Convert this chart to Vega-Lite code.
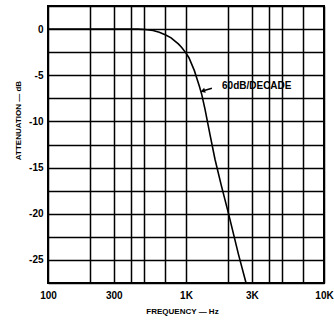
{
  "$schema": "https://vega.github.io/schema/vega-lite/v6.json",
  "width": 276,
  "height": 277,
  "autosize": {"type": "none"},
  "padding": {"left": 48, "top": 6, "right": 10, "bottom": 40},
  "background": "white",
  "config": {
    "view": {"stroke": "black", "strokeWidth": 2},
    "font": "Liberation Sans"
  },
  "datasets": {
    "curve": [
      {"f": 100, "db": 0},
      {"f": 300, "db": 0},
      {"f": 450, "db": 0},
      {"f": 505, "db": -0.05},
      {"f": 577, "db": -0.15},
      {"f": 640, "db": -0.35},
      {"f": 713, "db": -0.65},
      {"f": 780, "db": -0.95},
      {"f": 832, "db": -1.3},
      {"f": 880, "db": -1.6},
      {"f": 931, "db": -2.0},
      {"f": 1000, "db": -2.6},
      {"f": 1050, "db": -3.1},
      {"f": 1099, "db": -3.8},
      {"f": 1150, "db": -4.5},
      {"f": 1196, "db": -5.3},
      {"f": 1250, "db": -6.2},
      {"f": 1301, "db": -7.1},
      {"f": 1374, "db": -8.7},
      {"f": 1500, "db": -11.6},
      {"f": 1622, "db": -14.1},
      {"f": 1800, "db": -16.9},
      {"f": 2027, "db": -19.9},
      {"f": 2400, "db": -24.4},
      {"f": 2723, "db": -27.5}
    ],
    "arrow": [
      {"f": 1321, "db": -6.7, "f2": 1540, "db2": -6.4}
    ],
    "label": [
      {"f": 1824, "db": -6.16, "text": "60dB/DECADE"}
    ]
  },
  "layer": [
    {
      "data": {"name": "curve"},
      "mark": {"type": "line", "color": "black", "strokeWidth": 1.6, "clip": true},
      "encoding": {
        "x": {
          "field": "f", "type": "quantitative",
          "scale": {"type": "log", "domain": [100, 10000], "nice": false},
          "axis": {
            "values": [100, 200, 300, 400, 500, 700, 1000, 2000, 3000, 4000, 5000, 7000, 10000],
            "tickCount": 30,
            "labelExpr": "datum.value==100?'100':datum.value==300?'300':datum.value==1000?'1K':datum.value==3000?'3K':datum.value==10000?'10K':''",
            "grid": true, "gridColor": "black", "gridWidth": 1.5, "gridOpacity": 1,
            "ticks": false, "domain": false,
            "labelFont": "Liberation Sans", "labelFontWeight": "bold", "labelFontSize": 10, "labelColor": "black",
            "labelPadding": 7, "labelOverlap": false, "labelFlush": false,
            "title": "FREQUENCY — Hz", "titleFont": "Liberation Sans", "titleFontWeight": "bold", "titleFontSize": 8,
            "titleColor": "black", "titleBaseline": "middle", "titleY": 28, "titleX": 134
          }
        },
        "y": {
          "field": "db", "type": "quantitative",
          "scale": {"domain": [-27.5, 2.5], "nice": false, "zero": false},
          "axis": {
            "values": [2.5, 0, -2.5, -5, -7.5, -10, -12.5, -15, -17.5, -20, -22.5, -25, -27.5],
            "tickCount": 30,
            "labelExpr": "datum.value==0?'0':datum.value==-5?'-5':datum.value==-10?'-10':datum.value==-15?'-15':datum.value==-20?'-20':datum.value==-25?'-25':''",
            "grid": true, "gridColor": "black", "gridWidth": 1.5, "gridOpacity": 1,
            "ticks": false, "domain": false,
            "labelFont": "Liberation Sans", "labelFontWeight": "bold", "labelFontSize": 10, "labelColor": "black",
            "labelPadding": 5, "labelOverlap": false,
            "title": "ATTENUATION — dB", "titleFont": "Liberation Sans", "titleFontWeight": "bold", "titleFontSize": 8,
            "titleColor": "black", "titleBaseline": "middle", "titleX": -30, "titleY": 114
          }
        }
      }
    },
    {
      "data": {"name": "arrow"},
      "mark": {"type": "rule", "color": "black", "strokeWidth": 1.5},
      "encoding": {
        "x": {"field": "f", "type": "quantitative"},
        "y": {"field": "db", "type": "quantitative"},
        "x2": {"field": "f2"},
        "y2": {"field": "db2"}
      }
    },
    {
      "data": {"name": "arrow"},
      "mark": {"type": "point", "shape": "triangle-left", "filled": true, "color": "black", "size": 30, "angle": -17, "opacity": 1},
      "encoding": {
        "x": {"field": "f", "type": "quantitative"},
        "y": {"field": "db", "type": "quantitative"}
      }
    },
    {
      "data": {"name": "label"},
      "mark": {"type": "text", "align": "left", "baseline": "middle", "font": "Liberation Sans", "fontWeight": "bold", "fontSize": 10, "color": "black"},
      "encoding": {
        "x": {"field": "f", "type": "quantitative"},
        "y": {"field": "db", "type": "quantitative"},
        "text": {"field": "text"}
      }
    }
  ]
}
